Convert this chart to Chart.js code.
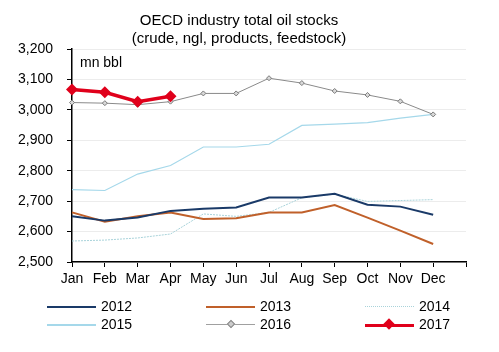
<!DOCTYPE html>
<html><head><meta charset="utf-8">
<script src="https://cdn.jsdelivr.net/npm/chart.js@4/dist/chart.umd.min.js"></script>
<style>
html,body{margin:0;padding:0;background:#fff;}
#wrap{position:relative;width:499px;height:352px;font-family:"Liberation Sans",Arial,sans-serif;color:#000;}
#c{position:absolute;left:0;top:0;}
.title{position:absolute;left:0;width:478px;text-align:center;font-size:15px;}
.unit{position:absolute;left:80px;top:54px;font-size:14px;}
.leg{position:absolute;font-size:14px;height:18px;line-height:18px;}
.leg .ln{position:absolute;left:0;top:9px;width:49px;}
.leg .tx{position:absolute;left:54px;top:0;}
</style></head>
<body><div id="wrap">
<canvas id="c" width="499" height="352"></canvas>
<div class="title" style="top:11px">OECD industry total oil stocks</div>
<div class="title" style="top:29px">(crude, ngl, products, feedstock)</div>
<div class="unit">mn bbl</div>
<div id="legend"></div>
</div>
<script>
const categories = ['Jan','Feb','Mar','Apr','May','Jun','Jul','Aug','Sep','Oct','Nov','Dec'];
const yTicks = [2500,2600,2700,2800,2900,3000,3100,3200];
const s2012 = [2650,2636,2646,2668,2675,2679,2712,2712,2724,2688,2682,2655];
const s2013 = [2663,2632,2650,2663,2641,2644,2663,2663,2687,2646,2603,2559];
const s2014 = [2569,2572,2579,2592,2658,2650,2663,2711,2723,2699,2702,2705];
const s2015 = [2738,2735,2789,2817,2878,2878,2887,2949,2953,2958,2973,2985];
const s2016 = [3024,3022,3017,3027,3054,3054,3104,3088,3062,3049,3028,2985];
const s2017 = [3067,3058,3027,3045];

const C = {c2012:'#1a3a68',c2013:'#c0602a',c2014:'#a9d3da',c2015:'#a5d8ea',c2016:'#8a8a8a',c2017:'#e0001b'};

const datasets = [
 {label:'2012',data:s2012,borderColor:C.c2012,borderWidth:2,pointRadius:0,order:2},
 {label:'2013',data:s2013,borderColor:C.c2013,borderWidth:2,pointRadius:0,order:3},
 {label:'2014',data:s2014,borderColor:C.c2014,borderWidth:1,borderDash:[2,1],pointRadius:0,order:5},
 {label:'2015',data:s2015,borderColor:C.c2015,borderWidth:1.2,pointRadius:0,order:4},
 {label:'2016',data:s2016,borderColor:C.c2016,borderWidth:1,pointStyle:'rectRot',pointRadius:2.5,pointBorderWidth:1,pointBorderColor:'#7a7a7a',pointBackgroundColor:'#d8d8d8',order:1},
 {label:'2017',data:s2017,borderColor:C.c2017,borderWidth:3.5,pointStyle:'rectRot',pointRadius:6,pointBorderWidth:0,pointBackgroundColor:C.c2017,order:0}
];
datasets.forEach(d=>{d.fill=false;d.tension=0;d.pointHoverRadius=d.pointRadius;});

new Chart(document.getElementById('c'),{
 type:'line',
 data:{labels:categories.concat(['']),datasets},
 options:{
  responsive:false,animation:false,
  layout:{padding:{left:0,right:33,top:49,bottom:58}},
  plugins:{legend:{display:false},title:{display:false},tooltip:{enabled:false}},
  scales:{
   x:{offset:false,
      grid:{drawOnChartArea:false,tickLength:5,tickColor:'#000',lineWidth:1},
      border:{color:'#000',width:1.5},
      ticks:{color:'#000',font:{family:'"Liberation Sans", Arial',size:14},padding:4,maxRotation:0,autoSkip:false},
      afterFit:(s)=>{s.height=32;}
   },
   y:{min:2500,max:3200,
      afterBuildTicks:(s)=>{s.ticks=yTicks.map(v=>({value:v}));},
      grid:{color:'#ececec',lineWidth:1,tickLength:5,tickColor:'#000'},
      border:{color:'#000',width:1.5},
      ticks:{color:'#000',font:{family:'"Liberation Sans", Arial',size:14},padding:14,
        callback:(v)=>Number(v).toLocaleString('en-US')},
      afterFit:(s)=>{s.width=72;}
   }
  }
 }
});

const legendItems = [
 {t:'2012',x:47,y:297,style:'border-top:2px solid '+C.c2012},
 {t:'2013',x:206,y:297,style:'border-top:2px solid '+C.c2013},
 {t:'2014',x:365,y:297,style:'border-top:1px dotted '+C.c2014},
 {t:'2015',x:47,y:315,style:'border-top:2px solid '+C.c2015},
 {t:'2016',x:206,y:315,style:'border-top:1.5px solid #a0a0a0',mk:'s'},
 {t:'2017',x:365,y:315,style:'border-top:3px solid '+C.c2017,mk:'b'}
];
const lg=document.getElementById('legend');
legendItems.forEach(it=>{
 const d=document.createElement('div');d.className='leg';d.style.left=it.x+'px';d.style.top=it.y+'px';d.style.width='100px';
 let mk='';
 if(it.mk==='s') mk='<div style="position:absolute;left:22px;top:6px;width:4px;height:4px;background:#ccc;border:1px solid #888;transform:rotate(45deg)"></div>';
 if(it.mk==='b') mk='<div style="position:absolute;left:20px;top:5px;width:8px;height:8px;background:'+C.c2017+';transform:rotate(45deg)"></div>';
 d.innerHTML='<div class="ln" style="'+it.style+'"></div>'+mk+'<span class="tx">'+it.t+'</span>';
 lg.appendChild(d);
});
</script>
</body></html>
